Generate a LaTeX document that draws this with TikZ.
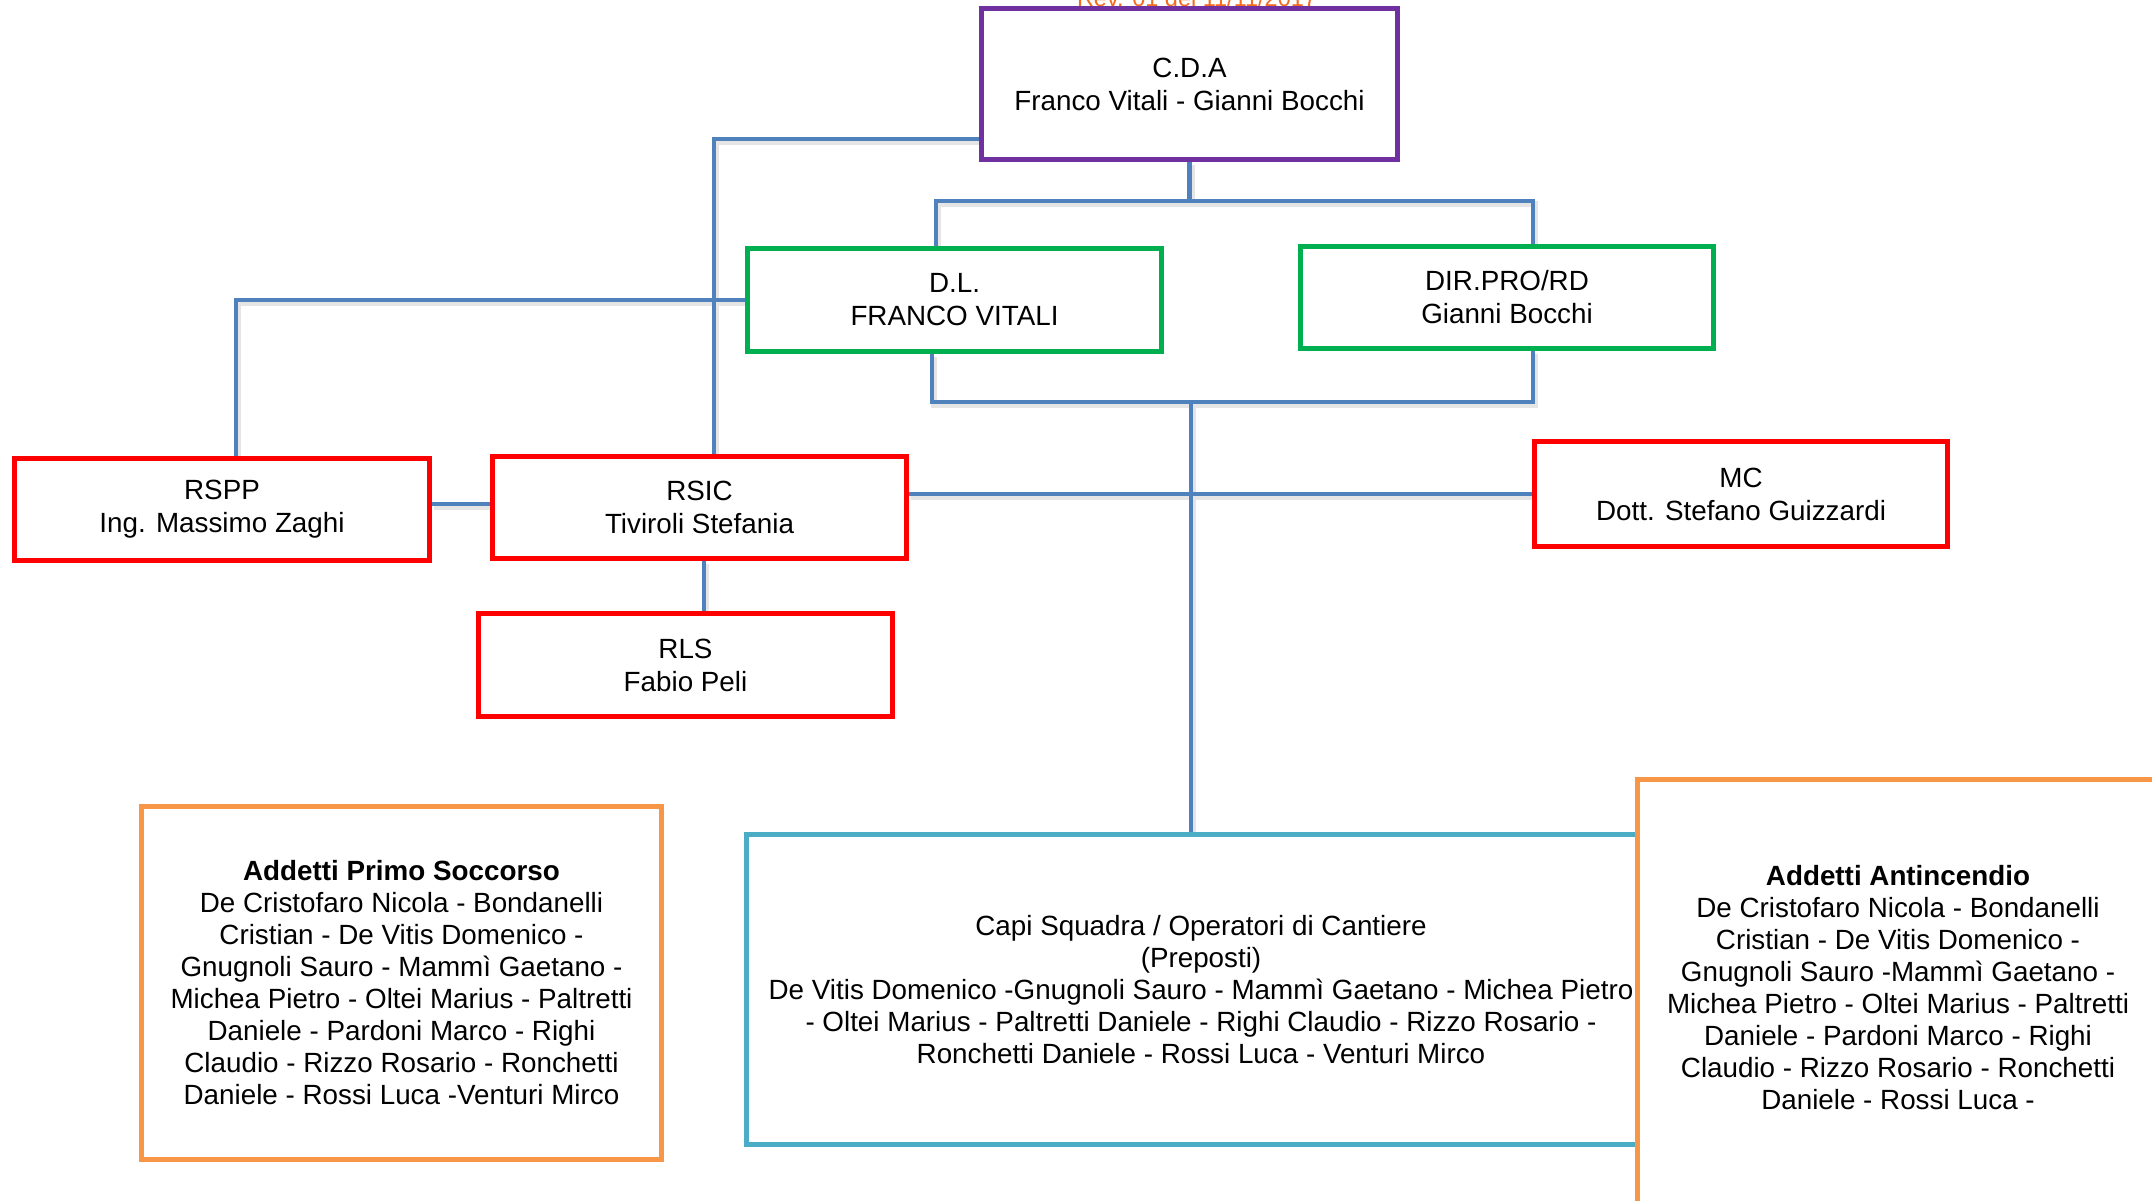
\documentclass[tikz,border=0pt]{standalone}
\usepackage{fontspec}
\setmainfont{Liberation Sans}
\usetikzlibrary{backgrounds}
\definecolor{cpurple}{HTML}{7030A0}
\definecolor{cgreen}{HTML}{00B050}
\definecolor{cred}{HTML}{FF0000}
\definecolor{corange}{HTML}{F79646}
\definecolor{cteal}{HTML}{4BACC6}
\definecolor{cblue}{HTML}{4F81BD}
\definecolor{crev}{HTML}{F26B21}
\newcommand\orgconnectors[1]{%
  \draw[#1] (cda.west |- 0,139) -| (714,0 |- rsic.north);
  \draw[#1] (dl.west) -| (236,0 |- rspp.north);
  \draw[#1] (cda.south) -- (j1);
  \draw[#1] (936,0 |- dl.north) |- (j1) -| (1533,0 |- dir.north);
  \draw[#1] (932,0 |- dl.south) |- (j2) -| (1533,0 |- dir.south);
  \draw[#1] (j2) -- (j2 |- capi.north);
  \draw[#1] (rsic.east |- 0,494) -- (mc.west);
  \draw[#1] (rspp.east |- 0,504) -- (rsic.west |- 0,504);
  \draw[#1] (704,0 |- rsic.south) -- (704,0 |- rls.north);
}
\begin{document}
\begin{tikzpicture}[x=1pt,y=-1pt,
  box/.style={draw, line width=5pt, fill=white, inner sep=0pt, align=center,
    font=\fontsize{27.8}{33}\selectfont},
  bigfont/.style={font=\fontsize{27.8}{32}\selectfont},
  txt/.style={inner sep=0pt, align=center, bigfont},
  conn/.style={draw=cblue, line width=4.5pt},
  connshadow/.style={draw=black!10, line width=6pt, transform canvas={shift={(2,3)}}},
]
\useasboundingbox (0,0) rectangle (2152,1200);
\clip (0,0) rectangle (2152,1200);

\node[text=crev, font=\fontsize{23.5}{28}\selectfont, anchor=base, inner sep=0pt] (rev) at (1197,6) {Rev. 01 del 11/11/2017};

\node[box, draw=cpurple, minimum width=416pt, minimum height=151pt] (cda) at (1189.5,84)
  {C.D.A\\Franco Vitali - Gianni Bocchi};
\node[box, draw=cgreen, minimum width=414pt, minimum height=103pt] (dl) at (954.5,300)
  {D.L.\\FRANCO VITALI};
\node[box, draw=cgreen, minimum width=413pt, minimum height=102pt] (dir) at (1507,297.5)
  {DIR.PRO/RD\\Gianni Bocchi};
\node[box, draw=cred, minimum width=415pt, minimum height=102pt] (rspp) at (222,509.5)
  {RSPP\\Ing. Massimo Zaghi};
\node[box, draw=cred, minimum width=414pt, minimum height=102pt] (rsic) at (699.5,507.5)
  {RSIC\\Tiviroli Stefania};
\node[box, draw=cred, minimum width=414pt, minimum height=103pt] (rls) at (685.5,665)
  {RLS\\Fabio Peli};
\node[box, draw=cred, minimum width=413pt, minimum height=105pt] (mc) at (1741,494)
  {MC\\Dott. Stefano Guizzardi};

\node[box, bigfont, draw=corange, line width=5.5pt, minimum width=520pt, minimum height=353pt] (ps) at (401.5,983)
  {\textbf{Addetti Primo Soccorso}\\
   De Cristofaro Nicola - Bondanelli\\
   Cristian - De Vitis Domenico -\\
   Gnugnoli Sauro - Mammì Gaetano -\\
   Michea Pietro - Oltei Marius - Paltretti\\
   Daniele - Pardoni Marco - Righi\\
   Claudio - Rizzo Rosario - Ronchetti\\
   Daniele - Rossi Luca -Venturi Mirco};

\node[box, bigfont, draw=cteal, line width=4.5pt, minimum width=909pt, minimum height=310pt] (capi) at (1201,989.5)
  {Capi Squadra / Operatori di Cantiere\\
   (Preposti)\\
   De Vitis Domenico -Gnugnoli Sauro - Mammì Gaetano - Michea Pietro\\
   - Oltei Marius - Paltretti Daniele - Righi Claudio - Rizzo Rosario -\\
   Ronchetti Daniele - Rossi Luca - Venturi Mirco};

\node[box, draw=corange, line width=5.5pt, minimum width=521pt, minimum height=441pt] (ai) at (1898,1000) {};
\node[txt] (aitxt) at (1898,987.5)
  {\textbf{Addetti Antincendio}\\
   De Cristofaro Nicola - Bondanelli\\
   Cristian - De Vitis Domenico -\\
   Gnugnoli Sauro -Mammì Gaetano -\\
   Michea Pietro - Oltei Marius - Paltretti\\
   Daniele - Pardoni Marco - Righi\\
   Claudio - Rizzo Rosario - Ronchetti\\
   Daniele - Rossi Luca -};

\begin{pgfonlayer}{background}
  \fill[white] (0,0) rectangle (2152,1200);
  \coordinate (j1) at (cda.south |- 0,201);
  \coordinate (j2) at (1191,402);
  \orgconnectors{connshadow}
  \orgconnectors{conn}
\end{pgfonlayer}
\end{tikzpicture}
\end{document}
